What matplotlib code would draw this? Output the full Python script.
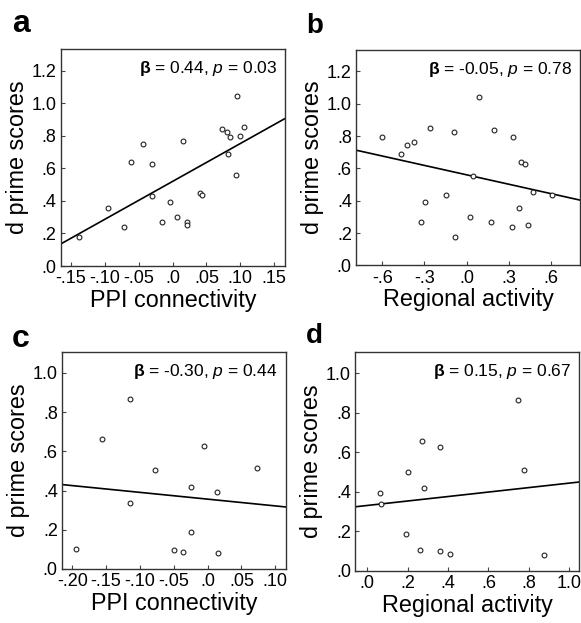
import matplotlib
matplotlib.use("Agg")
import matplotlib.pyplot as plt
import numpy as np

plt.rcParams['font.family'] = ['Liberation Sans', 'DejaVu Sans']
plt.rcParams['mathtext.fontset'] = 'custom'
plt.rcParams['mathtext.rm'] = 'Liberation Sans'
plt.rcParams['mathtext.it'] = 'Liberation Sans:italic'
plt.rcParams['mathtext.bf'] = 'Liberation Sans:bold'

# panel a / b : 23 participants
ppi_a = [-0.138, -0.095, -0.071, -0.062, -0.044, -0.030, -0.030, -0.015, -0.003, 0.007,
         0.016, 0.021, 0.021, 0.041, 0.043, 0.073, 0.080, 0.085, 0.082, 0.095, 0.094,
         0.100, 0.106]
dprime_a = [0.178, 0.358, 0.238, 0.641, 0.750, 0.625, 0.432, 0.270, 0.395, 0.303,
            0.768, 0.270, 0.254, 0.451, 0.434, 0.842, 0.825, 0.795, 0.690, 1.046, 0.559,
            0.797, 0.854]
act_b = [-0.600, -0.467, -0.422, -0.377, -0.261, -0.299, -0.325, -0.149, -0.088, -0.081,
         0.026, 0.043, 0.085, 0.173, 0.192, 0.332, 0.322, 0.384, 0.417, 0.375, 0.439,
         0.472, 0.609]
dprime_b = [0.793, 0.686, 0.746, 0.762, 0.849, 0.392, 0.269, 0.434, 0.822, 0.177,
            0.302, 0.555, 1.044, 0.267, 0.838, 0.793, 0.236, 0.639, 0.625, 0.355, 0.251,
            0.452, 0.434]

# panel c / d : 13 participants
ppi_c = [-0.195, -0.156, -0.115, -0.115, -0.078, -0.050, -0.036, -0.024, -0.024, -0.006,
         0.014, 0.016, 0.073]
dprime_c = [0.104, 0.662, 0.867, 0.337, 0.503, 0.099, 0.085, 0.419, 0.188, 0.627,
            0.391, 0.079, 0.513]
act_d = [0.063, 0.070, 0.194, 0.204, 0.259, 0.272, 0.282, 0.358, 0.360, 0.408,
         0.746, 0.778, 0.876]
dprime_d = [0.392, 0.336, 0.188, 0.501, 0.106, 0.657, 0.417, 0.624, 0.099, 0.087,
            0.862, 0.511, 0.079]

# fitted lines (intercept, slope)
fit_a = (0.52, 2.33)
fit_b = (0.560, -0.194)
fit_c = (0.356, -0.345)
fit_d = (0.331, 0.113)

stats = ["0.44, $\\mathit{p}$ = 0.03", "-0.05, $\\mathit{p}$ = 0.78",
         "-0.30, $\\mathit{p}$ = 0.44", "0.15, $\\mathit{p}$ = 0.67"]

xt_a = [-0.15, -0.10, -0.05, 0.0, 0.05, 0.10, 0.15]
xl_a = ['-.15', '-.10', '-.05', '.0', '.05', '.10', '.15']
xt_b = [-0.6, -0.3, 0.0, 0.3, 0.6]
xl_b = ['-.6', '-.3', '.0', '.3', '.6']
xt_c = [-0.20, -0.15, -0.10, -0.05, 0.0, 0.05, 0.10]
xl_c = ['-.20', '-.15', '-.10', '-.05', '.0', '.05', '.10']
xt_d = [0.0, 0.2, 0.4, 0.6, 0.8, 1.0]
xl_d = ['.0', '.2', '.4', '.6', '.8', '1.0']
yt_top = [0.0, 0.2, 0.4, 0.6, 0.8, 1.0, 1.2]
yl_top = ['.0', '.2', '.4', '.6', '.8', '1.0', '1.2']
yt_bot = [0.0, 0.2, 0.4, 0.6, 0.8, 1.0]
yl_bot = ['.0', '.2', '.4', '.6', '.8', '1.0']

fig = plt.figure(figsize=(5.81, 6.23), dpi=100)

panels = [
    ([0.1045, 0.573, 0.386, 0.348], ppi_a, dprime_a, fit_a, (-0.165, 0.166), (0, 1.333),
     xt_a, xl_a, yt_top, yl_top, "PPI connectivity", stats[0]),
    ([0.6127, 0.574, 0.386, 0.346], act_b, dprime_b, fit_b, (-0.787, 0.807), (0, 1.333),
     xt_b, xl_b, yt_top, yl_top, "Regional activity", stats[1]),
    ([0.1067, 0.0867, 0.385, 0.348], ppi_c, dprime_c, fit_c, (-0.2152, 0.1154), (0, 1.105),
     xt_c, xl_c, yt_bot, yl_bot, "PPI connectivity", stats[2]),
    ([0.6115, 0.0835, 0.3855, 0.351], act_d, dprime_d, fit_d, (-0.059, 1.0495), (0, 1.105),
     xt_d, xl_d, yt_bot, yl_bot, "Regional activity", stats[3]),
]

for pos, x, y, fit, xlim, ylim, xt, xl, yt, yl, xlabel, st in panels:
    ax = fig.add_axes(pos)
    ax.scatter(x, y, s=12, facecolors='white', edgecolors='#222222', linewidths=0.8, zorder=3)
    xs = np.array(xlim)
    ax.plot(xs, fit[0] + fit[1] * xs, color='black', lw=1.2, zorder=2)
    ax.set_xlim(xlim)
    ax.set_ylim(ylim)
    ax.set_xticks(xt)
    ax.set_xticklabels(xl)
    ax.set_yticks(yt)
    ax.set_yticklabels(yl)
    ax.tick_params(direction='in', length=3, width=0.8, labelsize=13, pad=3,
                   colors='#444444', labelcolor='black')
    for sp in ax.spines.values():
        sp.set_color('#333333')
        sp.set_linewidth(1.0)
    ax.set_xlabel(xlabel, fontsize=16.8, labelpad=1)
    ax.set_ylabel("d prime scores", fontsize=16.8, labelpad=2)
    ax.text(0.965, 0.955, "$\\mathbf{\\beta}$ = " + st, transform=ax.transAxes,
            ha='right', va='top', fontsize=12.5)

fig.text(12 / 581, 1 - 32 / 623, "a", fontsize=23, fontweight='bold', ha='left', va='baseline')
fig.text(306 / 581, 1 - 33 / 623, "b", fontsize=20, fontweight='bold', ha='left', va='baseline')
fig.text(12 / 581, 1 - 347 / 623, "c", fontsize=23, fontweight='bold', ha='left', va='baseline')
fig.text(306 / 581, 1 - 343 / 623, "d", fontsize=20, fontweight='bold', ha='left', va='baseline')

fig.savefig("out.png", dpi=100)
